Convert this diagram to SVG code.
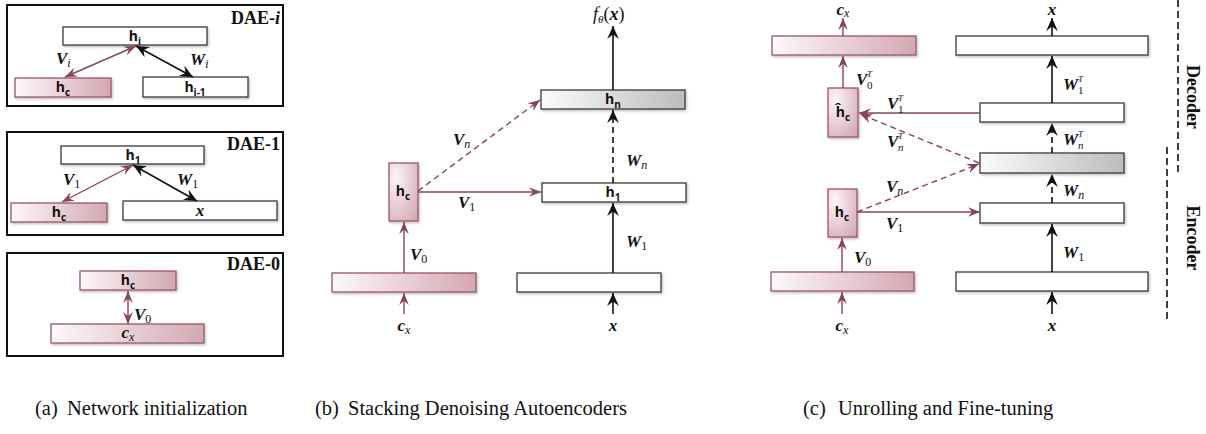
<svg xmlns="http://www.w3.org/2000/svg" width="1206" height="434" viewBox="0 0 1206 434">
<defs>
<style>
.frame{fill:none;stroke:#111;stroke-width:2}
.wbox{fill:#fff;stroke:#3a3a3a;stroke-width:1.3;filter:url(#sh)}
.pbox{fill:url(#pg);stroke:#9a5565;stroke-width:1.3;filter:url(#sh)}
.pvbox{fill:url(#pgv);stroke:#9a5565;stroke-width:1.3;filter:url(#sh)}
.gbox{fill:url(#gg);stroke:#3a3a3a;stroke-width:1.3;filter:url(#sh)}
.blk{stroke:#111;stroke-width:1.6;fill:none}
.mar{stroke:#8a4356;stroke-width:1.4;fill:none}
.dash{stroke-dasharray:6 4}
.ba{marker-end:url(#ab)}
.bb{marker-start:url(#ab);marker-end:url(#ab)}
.ma{marker-end:url(#am)}
.mb{marker-start:url(#am);marker-end:url(#am)}
.hl{font-family:"Open Sans","Noto Sans",sans-serif;font-weight:bold;font-size:14px;fill:#111;text-anchor:middle}
.hs{font-size:10px}
.ml{font-family:"Liberation Serif",serif;font-style:italic;font-weight:bold;font-size:17px;fill:#111}
.sub{font-weight:normal;font-size:12px}
.sc{font-family:"Liberation Serif",serif;font-weight:normal;font-size:11px;fill:#111}
.sp{font-family:"Liberation Serif",serif;font-style:italic;font-size:9px;fill:#111}
.dae{font-family:"Liberation Serif",serif;font-weight:bold;font-size:18px;text-anchor:end;fill:#111}
.side{font-family:"Liberation Serif",serif;font-weight:bold;font-size:18px;text-anchor:middle;fill:#111}
.cap{font-family:"Liberation Serif",serif;font-size:20.5px;fill:#111}
.vline{stroke:#111;stroke-width:1.6;stroke-dasharray:7 4}
</style>
<linearGradient id="pg" x1="0" y1="0" x2="1" y2="0"><stop offset="0" stop-color="#fdf8f9"/><stop offset="1" stop-color="#d3a8b3"/></linearGradient>
<radialGradient id="pgv" cx="0.25" cy="0.25" r="1"><stop offset="0" stop-color="#fcf6f8"/><stop offset="1" stop-color="#d2a6b1"/></radialGradient>
<linearGradient id="gg" x1="0" y1="0" x2="1" y2="0"><stop offset="0" stop-color="#fbfbfb"/><stop offset="1" stop-color="#bcbcbc"/></linearGradient>
<filter id="sh" x="-10%" y="-30%" width="130%" height="180%"><feDropShadow dx="1.2" dy="1.5" stdDeviation="1" flood-color="#000" flood-opacity="0.25"/></filter>
<marker id="ab" markerUnits="userSpaceOnUse" markerWidth="13" markerHeight="13" viewBox="0 0 10 10" refX="10" refY="5" orient="auto-start-reverse"><path d="M0,0.5 L10,5 L0,9.5 L3.5,5 Z" fill="#111"/></marker>
<marker id="am" markerUnits="userSpaceOnUse" markerWidth="12" markerHeight="12" viewBox="0 0 10 10" refX="10" refY="5" orient="auto-start-reverse"><path d="M0,1 L10,5 L0,9 L3.5,5 Z" fill="#8a4356"/></marker>
</defs>

<!-- Panel (a) -->
<g id="dae-i">
<rect class="frame" x="7" y="5" width="276" height="101"/>
<text class="dae" x="280" y="24">DAE-<tspan font-style="italic">i</tspan></text>
<rect class="wbox" x="63" y="27" width="144" height="18"/>
<text class="hl" x="135" y="41">h<tspan class="hs" dy="4">i</tspan></text>
<rect class="pbox" x="15" y="78" width="96" height="19"/>
<text class="hl" x="63" y="92">h<tspan class="hs" dy="4">c</tspan></text>
<rect class="wbox" x="143" y="77" width="105" height="20"/>
<text class="hl" x="195" y="92">h<tspan class="hs" dy="4">i-1</tspan></text>
</g>
<g id="dae-1">
<rect class="frame" x="7" y="132" width="276" height="103"/>
<text class="dae" x="280" y="150">DAE-1</text>
<rect class="wbox" x="61" y="146" width="143" height="18"/>
<text class="hl" x="133" y="160">h<tspan class="hs" dy="4">1</tspan></text>
<rect class="pbox" x="11" y="203" width="96" height="19"/>
<text class="hl" x="59" y="217">h<tspan class="hs" dy="4">c</tspan></text>
<rect class="wbox" x="123" y="201" width="154" height="19"/>
<text class="ml" x="200" y="216" text-anchor="middle">x</text>
</g>
<g id="dae-0">
<rect class="frame" x="7" y="253" width="276" height="103"/>
<text class="dae" x="280" y="270">DAE-0</text>
<rect class="pbox" x="80" y="271" width="96" height="19"/>
<text class="hl" x="128" y="285">h<tspan class="hs" dy="4">c</tspan></text>
<rect class="pbox" x="51" y="324" width="153" height="19"/>
<text class="ml" x="128" y="338" text-anchor="middle">c<tspan class="sub" dy="3" font-style="italic">x</tspan></text>
</g>

<!-- Panel (b) -->
<g id="b-hn">
<rect class="gbox" x="541" y="90" width="144" height="19"/>
<text class="hl" x="613" y="104">h<tspan class="hs" dy="4">n</tspan></text>
</g>
<g id="b-h1">
<rect class="wbox" x="542" y="183" width="144" height="19"/>
<text class="hl" x="613" y="197">h<tspan class="hs" dy="4">1</tspan></text>
</g>
<g id="b-hc">
<rect class="pvbox" x="389" y="163" width="29" height="58"/>
<text class="hl" x="403" y="196">h<tspan class="hs" dy="4">c</tspan></text>
</g>
<g id="b-cx-layer"><rect class="pbox" x="332" y="273" width="144" height="19"/></g>
<g id="b-x-layer"><rect class="wbox" x="517" y="273" width="144" height="19"/></g>

<!-- Panel (c) -->
<g id="c-cx-out"><rect class="pbox" x="772" y="36" width="144" height="19"/></g>
<g id="c-x-out"><rect class="wbox" x="956" y="36" width="192" height="19"/></g>
<g id="c-hc-hat">
<rect class="pvbox" x="828" y="88" width="30" height="49"/>
<text class="hl" x="843" y="117">ĥ<tspan class="hs" dy="4">c</tspan></text>
</g>
<g id="c-dec1"><rect class="wbox" x="980" y="103" width="144" height="19"/></g>
<g id="c-hn"><rect class="gbox" x="980" y="153" width="144" height="20"/></g>
<g id="c-h1"><rect class="wbox" x="980" y="203" width="144" height="20"/></g>
<g id="c-hc">
<rect class="pvbox" x="828" y="189" width="29" height="48"/>
<text class="hl" x="842" y="217">h<tspan class="hs" dy="4">c</tspan></text>
</g>
<g id="c-cx-layer"><rect class="pbox" x="771" y="272" width="143" height="19"/></g>
<g id="c-x-layer"><rect class="wbox" x="956" y="272" width="192" height="19"/></g>

<g id="connectors">
<!-- a -->
<line class="mar mb" x1="136" y1="46" x2="65" y2="77"/>
<line class="blk bb" x1="136" y1="46" x2="193" y2="77"/>
<line class="mar mb" x1="133" y1="165" x2="62" y2="202"/>
<line class="blk bb" x1="133" y1="165" x2="197" y2="201"/>
<line class="mar mb" x1="128" y1="291" x2="128" y2="324"/>
<!-- b -->
<line class="blk ba" x1="613" y1="90" x2="613" y2="26"/>
<line class="blk ba dash" x1="613" y1="183" x2="613" y2="110"/>
<line class="mar ma dash" x1="418" y1="191" x2="540" y2="100"/>
<line class="mar ma" x1="418" y1="192" x2="541" y2="192"/>
<line class="mar ma" x1="404" y1="273" x2="404" y2="222"/>
<line class="mar ma" x1="404" y1="314" x2="404" y2="293"/>
<line class="blk ba" x1="613" y1="273" x2="613" y2="203"/>
<line class="blk ba" x1="613" y1="314" x2="613" y2="293"/>
<!-- c -->
<line class="mar ma" x1="843" y1="36" x2="843" y2="18"/>
<line class="blk ba" x1="1052" y1="36" x2="1052" y2="18"/>
<line class="mar ma" x1="843" y1="88" x2="843" y2="56"/>
<line class="blk ba" x1="1052" y1="103" x2="1052" y2="56"/>
<line class="mar ma" x1="980" y1="113" x2="859" y2="113"/>
<line class="blk ba dash" x1="1052" y1="153" x2="1052" y2="123"/>
<line class="mar ma dash" x1="979" y1="163" x2="860" y2="114"/>
<line class="blk ba dash" x1="1052" y1="203" x2="1052" y2="174"/>
<line class="mar ma dash" x1="857" y1="212" x2="979" y2="164"/>
<line class="mar ma" x1="857" y1="212" x2="980" y2="212"/>
<line class="mar ma" x1="842" y1="272" x2="842" y2="238"/>
<line class="mar ma" x1="842" y1="314" x2="842" y2="292"/>
<line class="blk ba" x1="1052" y1="272" x2="1052" y2="224"/>
<line class="blk ba" x1="1052" y1="314" x2="1052" y2="292"/>
</g>

<g id="labels">
<!-- a -->
<text class="ml" x="56" y="64">V<tspan class="sub" dy="3" font-style="italic">i</tspan></text>
<text class="ml" x="190" y="65">W<tspan class="sub" dy="3" font-style="italic">i</tspan></text>
<text class="ml" x="63" y="185">V<tspan class="sub" dy="3" font-style="normal">1</tspan></text>
<text class="ml" x="177" y="185">W<tspan class="sub" dy="3" font-style="normal">1</tspan></text>
<text class="ml" x="134" y="320">V<tspan class="sub" dy="3" font-style="normal">0</tspan></text>
<!-- b -->
<text x="593" y="20" font-family="Liberation Serif, serif" font-size="18" fill="#111"><tspan font-style="italic">f</tspan><tspan font-style="italic" font-size="11" dy="3">θ</tspan><tspan dy="-3">(</tspan><tspan font-style="italic" font-weight="bold">x</tspan>)</text>
<text class="ml" x="626" y="166">W<tspan class="sub" dy="3" font-style="italic">n</tspan></text>
<text class="ml" x="453" y="145">V<tspan class="sub" dy="3" font-style="italic">n</tspan></text>
<text class="ml" x="458" y="208">V<tspan class="sub" dy="3" font-style="normal">1</tspan></text>
<text class="ml" x="410" y="260">V<tspan class="sub" dy="3" font-style="normal">0</tspan></text>
<text class="ml" x="626" y="247">W<tspan class="sub" dy="3" font-style="normal">1</tspan></text>
<text class="ml" x="404" y="331" text-anchor="middle">c<tspan class="sub" dy="3" font-style="italic">x</tspan></text>
<text class="ml" x="613" y="331" text-anchor="middle">x</text>
<!-- c -->
<text class="ml" x="843" y="15" text-anchor="middle">c<tspan class="sub" dy="2" font-style="italic">x</tspan></text>
<text class="ml" x="1052" y="15" text-anchor="middle">x</text>
<text class="ml" x="856" y="85">V</text><text class="sp" x="867" y="77">T</text><text class="sc" x="867" y="89">0</text>
<text class="ml" x="1063" y="90">W</text><text class="sp" x="1078" y="82">T</text><text class="sc" x="1078" y="94">1</text>
<text class="ml" x="887" y="109">V</text><text class="sp" x="898" y="101">T</text><text class="sc" x="898" y="113">1</text>
<text class="ml" x="887" y="147">V</text><text class="sp" x="898" y="139">T</text><text class="sc" x="898" y="151" font-style="italic">n</text>
<text class="ml" x="1063" y="145">W</text><text class="sp" x="1078" y="137">T</text><text class="sc" x="1078" y="149" font-style="italic">n</text>
<text class="ml" x="886" y="192">V<tspan class="sub" dy="3" font-style="italic">n</tspan></text>
<text class="ml" x="1063" y="196">W<tspan class="sub" dy="3" font-style="italic">n</tspan></text>
<text class="ml" x="886" y="229">V<tspan class="sub" dy="3" font-style="normal">1</tspan></text>
<text class="ml" x="854" y="263">V<tspan class="sub" dy="3" font-style="normal">0</tspan></text>
<text class="ml" x="1063" y="258">W<tspan class="sub" dy="3" font-style="normal">1</tspan></text>
<text class="ml" x="842" y="331" text-anchor="middle">c<tspan class="sub" dy="3" font-style="italic">x</tspan></text>
<text class="ml" x="1052" y="331" text-anchor="middle">x</text>
</g>

<g id="divider">
<line class="vline" x1="1178" y1="0" x2="1178" y2="175"/>
<line class="vline" x1="1167" y1="147" x2="1167" y2="323"/>
<text class="side" transform="translate(1187,97) rotate(90)">Decoder</text>
<text class="side" transform="translate(1187,238) rotate(90)">Encoder</text>
</g>

<g id="captions">
<text class="cap" x="35" y="415">(a)</text>
<text class="cap" x="67" y="415">Network initialization</text>
<text class="cap" x="315" y="415">(b)</text>
<text class="cap" x="348" y="415">Stacking Denoising Autoencoders</text>
<text class="cap" x="803" y="415">(c)</text>
<text class="cap" x="838" y="415">Unrolling and Fine-tuning</text>
</g>
</svg>
